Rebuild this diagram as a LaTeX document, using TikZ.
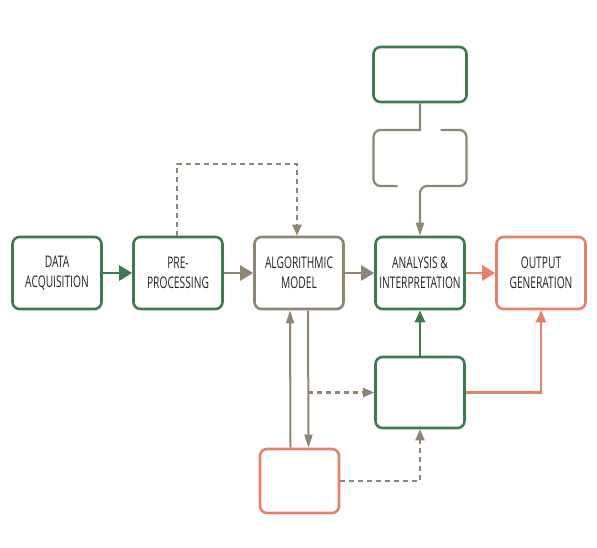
\documentclass[tikz,border=0pt]{standalone}
\usepackage{fontspec}
\setsansfont{Open Sans}[FakeStretch=0.64]
\usepackage{xcolor}
\usepackage{tikz}
\usetikzlibrary{arrows.meta, positioning, calc}

\definecolor{leaf}{HTML}{3E7A4E}
\definecolor{taupe}{HTML}{8E8574}
\definecolor{coral}{HTML}{E6806A}
\definecolor{ink}{HTML}{222222}

\begin{document}
\begin{tikzpicture}[
  x=1pt, y=-1pt,
  node distance = 29.4pt,
  stage/.style = {rectangle, rounded corners=7pt, draw, line width=2.6pt,
                  minimum width=89pt, minimum height=72pt, align=center,
                  text=ink, font=\sffamily\fontsize{16}{20}\selectfont},
  arr/.style   = {-{Triangle[length=13pt, width=15pt]}, line width=2.6pt},
  slim/.style  = {-{Triangle[length=13pt, width=8pt]}, line width=2pt},
  dashline/.style = {-{Triangle[length=11pt, width=9pt]}, line width=2.3pt,
                  dash pattern=on 5pt off 4pt}
]
\useasboundingbox[fill=white] (0,0) rectangle (597,547);

\node[stage, draw=leaf] (acq) at (57,273) {DATA\\ACQUISITION};
\node[stage, draw=leaf, right=of acq]   (prep) {PRE-\\PROCESSING};
\node[stage, draw=taupe, right=of prep] (algo) {ALGORITHMIC\\MODEL};
\node[stage, draw=leaf, right=of algo]  (anal) {ANALYSIS \&\\INTERPRETATION};
\node[stage, draw=coral, right=of anal] (out)  {OUTPUT\\GENERATION};

% upper column
\node[stage, draw=leaf, minimum width=93pt, minimum height=55pt] (src) at (420,74.5) {};
\node[minimum width=93pt, minimum height=56pt, inner sep=0pt, outer sep=0pt] (hold) at (420,158) {};

% lower boxes
\node[stage, draw=leaf, minimum height=71pt] (feed) at (420,392.5) {};
\node[stage, draw=coral, minimum width=79pt, minimum height=64pt] (risk) at (299.5,481) {};

% Arrows along the main row
\draw[arr, leaf]  (acq) -- (prep);
\draw[arr, taupe, line width=2.3pt] (prep) -- (algo);
\draw[arr, taupe, line width=2.3pt] (algo) -- (anal);
\draw[arr, coral] (anal) -- (out);

% Feedback over the top
\draw[dashline, taupe] ([xshift=-1pt]prep.north) -- ++(0,-72) -| ([xshift=-2pt]algo.north);

% open box between src and anal
\draw[taupe, line width=2.2pt] (src.south) -- (src.south |- hold.north)
  [rounded corners=7pt] -- (hold.north west) -- (hold.south west) -- ([xshift=24pt]hold.south west);
\draw[slim, taupe, line width=2.2pt] ([xshift=-26pt]hold.north east) [rounded corners=7pt] -- (hold.north east)
  -- (hold.south east) -- (hold.south -| src.south) [sharp corners] -- (anal.north);

% Links below the model
\draw[slim, taupe] ([xshift=-9pt]risk.north) -- ([xshift=-9pt]algo.south);
\draw[slim, taupe] ([xshift=9pt]algo.south) -- ([xshift=9pt]risk.north);
\draw[dashline, taupe] ([xshift=9pt]algo.south |- feed.west) -- (feed.west);
\draw[dashline, taupe] (risk.east) -| (feed.south);

% Results upward
\draw[arr, leaf, line width=2.3pt, -{Triangle[length=12pt, width=10pt]}] (feed) -- (anal);
\draw[arr, coral, line width=2.3pt, -{Triangle[length=12pt, width=10pt]}] (feed.east) -| (out.south);

\end{tikzpicture}
\end{document}
